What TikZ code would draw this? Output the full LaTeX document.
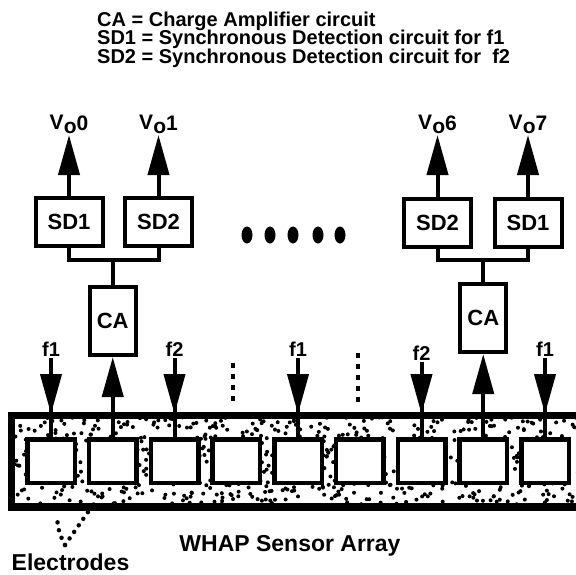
\documentclass[tikz,border=0pt]{standalone}
\usepackage{fontspec}
\setmainfont{Liberation Sans}
\usepackage{tikz}
\usetikzlibrary{arrows.meta, positioning}

\newcommand{\outlbl}[1]{V\raisebox{-4pt}{o}\raisebox{-1pt}{#1}}

\begin{document}
\begin{tikzpicture}[x=1pt, y=-1pt,
    block/.style={draw, line width=4pt, fill=white, inner sep=0pt, font=\fontsize{22}{24}\selectfont\bfseries},
    sdbox/.style={block, minimum width=67pt, minimum height=48pt},
    cabox/.style={block, minimum width=46pt, minimum height=68pt},
    electrode/.style={draw, line width=4.5pt, fill=white, minimum width=47.5pt, minimum height=43.5pt},
    sensor/.style={draw, line width=5pt, minimum width=577.5pt, minimum height=89pt},
    outlabel/.style={inner sep=1pt, font=\fontsize{21}{24}\selectfont\bfseries},
    freq/.style={inner sep=2pt, font=\fontsize{20}{22}\selectfont\bfseries},
    legend/.style={anchor=base west, inner sep=0pt, text height=14.5pt, text depth=4pt, font=\fontsize{20}{22}\selectfont\bfseries},
    caption/.style={anchor=base, inner sep=0pt, font=\fontsize{23}{24}\selectfont\bfseries},
    wire/.style={line width=4pt},
    sig/.style={wire, -{Triangle[length=40pt, width=21pt]}},
    sepline/.style={line width=4.5pt, dash pattern=on 5pt off 6pt},
    pointer/.style={line width=4.5pt, line cap=round, dash pattern=on 0pt off 8pt}
]
    \useasboundingbox (0,0) rectangle (576,574);

    % Legend
    \node[legend] (legca) at (97,26) {CA = Charge Amplifier circuit};
    \node[legend] (legsda) at (97,44.5) {SD1 = Synchronous Detection circuit for f1};
    \node[legend] (legsdb) at (97,63) {SD2 = Synchronous Detection circuit for\ \ f2};

    % Sensor array with stipple
    \node[sensor] (array) at (301.25,461) {};
    \begin{scope}
        \clip (array.north west) rectangle (array.south east);
        \pgfmathsetseed{7}
        \foreach \i in {1,...,750}
            \fill ({12+580*rnd},{416+90*rnd}) circle (2);
    \end{scope}
    \draw[line width=5pt] (array.north west) rectangle (array.south east);

    % Electrodes
    \foreach \k in {1,...,9}
        \node[electrode] (el\k) at ({51+61.75*(\k-1)},461) {};

    % Detection blocks
    \node[sdbox] (sdL1) at (69,222) {SD1};
    \node[sdbox] (sdL2) at (158.5,222) {SD2};
    \node[sdbox] (sdR2) at (437.5,222.5) {SD2};
    \node[sdbox] (sdR1) at (528,222.5) {SD1};
    \node[cabox] (caL) at (112.75,321) {CA};
    \node[cabox] (caR) at (483.25,318) {CA};
    \coordinate (busL) at (112.75,260);
    \coordinate (busR) at (483.25,260);

    % Outputs
    \node[outlabel, anchor=south] (vo0) at (69,135) {\outlbl{0}};
    \node[outlabel, anchor=south] (vo1) at (158.5,135) {\outlbl{1}};
    \node[outlabel, anchor=south] (vo6) at (437.5,135) {\outlbl{6}};
    \node[outlabel, anchor=south] (vo7) at (528,135) {\outlbl{7}};

    \draw[sig] (sdL1) -- (vo0);
    \draw[sig] (sdL2) -- (vo1);
    \draw[sig] (sdR2) -- (vo6);
    \draw[sig] (sdR1) -- (vo7);

    \draw[wire] (sdL1.south) |- (busL) -| (sdL2.south);
    \draw[wire] (sdR2.south) |- (busR) -| (sdR1.south);
    \draw[wire] (busL) -- (caL);
    \draw[wire] (busR) -- (caR);

    % Excitation inputs
    \foreach \k/\f/\y in {1/f1/349, 3/f2/349, 5/f1/349, 7/f2/353, 9/f1/349} {
        \node[freq] (f\k) at (el\k.north |- 0,\y) {\f};
        \draw[wire] (f\k) -- (el\k);
        \draw[sig] (f\k) -- (f\k |- array.north);
    }
    \draw[sig] (el2) -- (caL);
    \draw[sig] (el8) -- (caR);

    \draw[sepline] (233,363) -- (233,405);
    \draw[sepline] (358,353) -- (358,405);
    \foreach \x in {247,270,293,318,340}
        \fill (\x,235) ellipse (5.5 and 8.5);

    % Captions
    \node[caption] (arrname) at (290,551) {WHAP Sensor Array};
    \node[caption] (elname) at (70.5,570.5) {Electrodes};
    \coordinate (ptr) at (65,545);
    \coordinate (ptrA) at (88,512);
    \coordinate (ptrB) at (57,517);
    \draw[pointer] (ptr) -- (ptrA);
    \draw[pointer] (ptr) to[bend left=12] (ptrB);

\end{tikzpicture}
\end{document}
